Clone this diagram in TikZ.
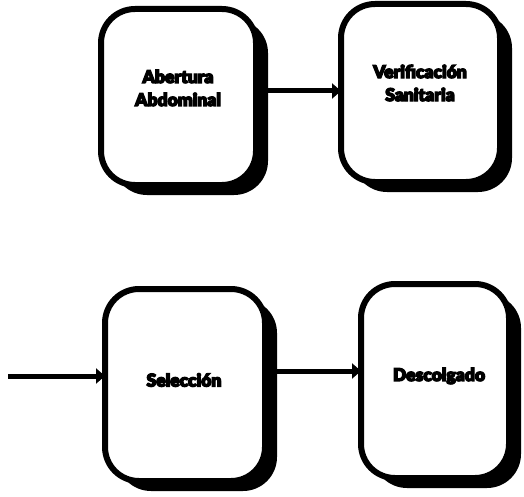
\documentclass[tikz,border=0pt]{standalone}
\usepackage{fontspec}
\newfontfamily\heavyfont{Lato}[UprightFont=* Black]
% heavier glyphs: fill and stroke the outlines
\newcommand\thicktext[1]{\special{pdf:literal direct 2 Tr 1.3 w}#1\special{pdf:literal direct 0 Tr}}
\usetikzlibrary{arrows.meta,shadows}
\begin{document}
\begin{tikzpicture}[x=1pt,y=-1pt,
  stage/.style={draw=black, fill=white, line width=6pt, rounded corners=34pt,
    inner sep=0pt, outer sep=0pt,
    drop shadow={shadow xshift=12pt, shadow yshift=-10pt, fill=black, opacity=1}},
  caption/.style={align=center, inner sep=0pt,
    font=\heavyfont\fontsize{17.5}{23}\selectfont},
  flow/.style={line width=5pt, -{Triangle[length=9pt,width=15pt]}}]
  % canvas
  \fill[white] (0,0) rectangle (524,497);
  \useasboundingbox (0,0) rectangle (524,497);

  % process boxes
  \node[stage, minimum width=155pt, minimum height=176pt] (b1) at (178.5,97) {};
  \node[stage, minimum width=159pt, minimum height=178pt] (b2) at (420.5,93) {};
  \node[stage, minimum width=160pt, minimum height=192pt] (b3) at (185,385) {};
  \node[stage, minimum width=148pt, minimum height=194pt] (b4) at (435,381) {};

  % captions
  \node[caption] (t1) at (178,88) {\thicktext{Abertura}\\\thicktext{Abdominal}};
  \node[caption] (t2) at (420,83) {\thicktext{Verificación}\\\thicktext{Sanitaria}};
  \node[caption] (t3) at (184,380) {\thicktext{Selección}};
  \node[caption] (t4) at (439,376) {\thicktext{Descolgado}};

  % connectors
  \coordinate (in3) at (8,376);
  \draw[flow] ([yshift=6pt]b1.east) -- ([yshift=2pt]b2.west);
  \draw[flow] (in3) -- ([yshift=9pt]b3.west);
  \draw[flow] ([yshift=14pt]b3.east) -- ([yshift=10pt]b4.west);
\end{tikzpicture}
\end{document}
